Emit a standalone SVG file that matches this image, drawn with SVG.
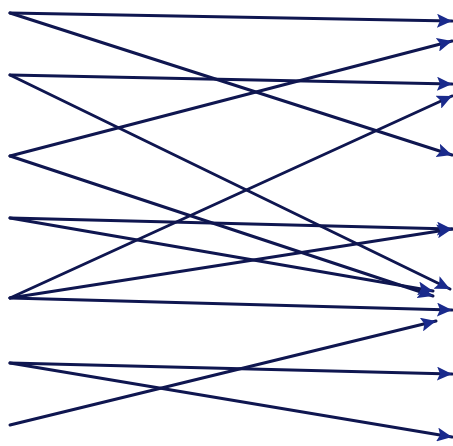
<svg xmlns="http://www.w3.org/2000/svg" width="453" height="446" viewBox="0 0 453 446">
<style>
.c line{stroke:#0f1650;stroke-width:3;stroke-linecap:round;fill:none;marker-end:url(#ah)}
</style>
<defs>
<marker id="ah" markerUnits="userSpaceOnUse" markerWidth="16" markerHeight="14" refX="15" refY="7" orient="auto">
<path d="M0,0 L15,7 L0,14 L3,7 Z" fill="#1a2a8c"/>
</marker>
</defs>
<rect width="453" height="446" fill="#ffffff"/>
<g id="connectors" class="c">
<line x1="10" y1="13" x2="452" y2="21"/>
<line x1="10" y1="13" x2="452" y2="155"/>
<line x1="10" y1="75" x2="452" y2="84"/>
<line x1="10" y1="75" x2="450" y2="289"/>
<line x1="10" y1="156" x2="452" y2="41"/>
<line x1="10" y1="156" x2="433" y2="296"/>
<line x1="10" y1="218" x2="452" y2="229"/>
<line x1="10" y1="218" x2="433" y2="291"/>
<line x1="10" y1="298" x2="452" y2="96"/>
<line x1="10" y1="298" x2="452" y2="229"/>
<line x1="10" y1="298" x2="452" y2="310"/>
<line x1="10" y1="363" x2="452" y2="374"/>
<line x1="10" y1="363" x2="452" y2="437"/>
<line x1="10" y1="425" x2="436" y2="321"/>
</g>
</svg>
